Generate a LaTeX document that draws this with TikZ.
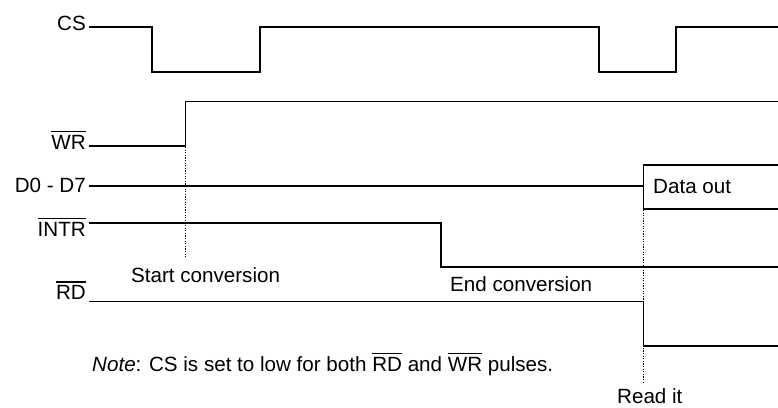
\documentclass[tikz,border=0pt]{standalone}
\usepackage{fontspec}
\setmainfont{Liberation Sans}
% signal name with a bar over it (active-low)
\newcommand\actlow[1]{\vbox{\hrule height 1.3pt\kern 2.6pt\hbox{#1}}}
\begin{document}
\begin{tikzpicture}[x=1pt,y=-1pt,
    wave/.style={line width=1.7pt,line join=miter},
    guide/.style={line width=1.3pt,dash pattern=on 1.2pt off 1.4pt},
    sig/.style={anchor=base east,inner sep=0pt},
    txt/.style={anchor=base west,inner sep=0pt},
    every node/.style={font=\fontsize{20.6}{24}\selectfont}]
\useasboundingbox (0,0) rectangle (778,407);

% event times along the axis
\coordinate (start) at (89,0);
\coordinate (csA) at (152,0);
\coordinate (wr) at (185.5,0);
\coordinate (csB) at (260,0);
\coordinate (eoc) at (441,0);
\coordinate (csC) at (599,0);
\coordinate (rd) at (643.5,0);
\coordinate (csD) at (676,0);
\coordinate (stop) at (778,0);

% signal names
\node[sig] (lcs)   at (86,30)    {CS};
\node[sig] (lwr)   at (86,149)   {\actlow{WR}};
\node[sig] (ld)    at (86,192.5) {D0 - D7};
\node[sig] (lintr) at (86,236)   {\actlow{INTR}};
\node[sig] (lrd)   at (86,299.5) {\actlow{RD}};

% CS
\draw[wave] (start |- 0,27) -- (csA |- 0,27) -- (csA |- 0,72) -- (csB |- 0,72)
  -- (csB |- 0,27) -- (csC |- 0,27) -- (csC |- 0,72) -- (csD |- 0,72)
  -- (csD |- 0,27) -- (stop |- 0,27);
% WR
\draw[wave] (start |- 0,146) -- (wr |- 0,146) -- (wr |- 0,101.5) -- (stop |- 0,101.5);
% D0 - D7
\draw[wave] (start |- 0,186) -- (rd |- 0,186);
\draw[wave] (stop |- 0,165) -- (rd |- 0,165) -- (rd |- 0,209) -- (stop |- 0,209);
% INTR
\draw[wave] (start |- 0,223) -- (eoc |- 0,223) -- (eoc |- 0,267) -- (stop |- 0,267);
% RD
\draw[wave] (start |- 0,301.5) -- (rd |- 0,301.5) -- (rd |- 0,346) -- (stop |- 0,346);

% markers
\draw[guide] (wr |- 0,147) -- (wr |- 0,257);
\draw[guide] (rd |- 0,210) -- (rd |- 0,382);

% annotations
\node[txt] (sc)  at (131,282) {Start conversion};
\node[txt] (ec)  at (450,291) {End conversion};
\node[txt] (dat) at (653,193) {Data out};
\node[txt] (rit) at (617,403.5) {Read it};
\node[txt] (note) at (92,371) {\textit{Note}: CS is set to low for both \actlow{RD} and \actlow{WR} pulses.};
\end{tikzpicture}
\end{document}
